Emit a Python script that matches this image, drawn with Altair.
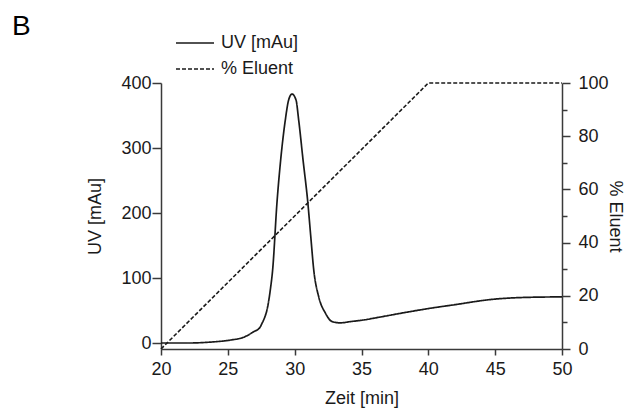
import altair as alt
import pandas as pd

# ---- data ----
uv_time = [20, 22, 23.75, 25.2, 26.2, 26.9, 27.4, 27.55, 27.75, 27.93, 28.18, 28.35, 28.68,
           28.95, 29.3, 29.55, 29.8, 30.1, 30.3, 30.63, 30.98, 31.2, 31.43, 31.8, 32.3,
           32.8, 33.4, 34.2, 35, 36.4, 38, 40, 42, 44.7, 47, 50]
uv_value = [0, 0, 1.5, 4.6, 9, 17, 24, 30, 39, 51, 82, 112, 217,
            281, 343, 374, 383, 374, 343, 281, 217, 165, 112, 71, 46,
            33, 31, 33, 35, 40, 46, 53, 59, 67, 70, 71]
eluent_time = [20, 40, 50]
eluent_value = [0, 100, 100]

series_names = ["UV [mAu]", "% Eluent"]
x_ticks = [20, 25, 30, 35, 40, 45, 50]
uv_ticks = [0, 100, 200, 300, 400]
eluent_ticks = [0, 10, 20, 30, 40, 50, 60, 70, 80, 90, 100]
panel_label = "B"

FONT = "Liberation Sans"
INK = "#1a1a1a"
AX = "#3a3a3a"

uv_df = pd.DataFrame({"t": uv_time, "v": uv_value, "s": series_names[0]})
el_df = pd.DataFrame({"t": eluent_time, "v": eluent_value, "s": series_names[1]})

x_enc = alt.X("t:Q", scale=alt.Scale(domain=[20, 50], nice=False),
              axis=alt.Axis(values=x_ticks, title="Zeit [min]", tickSize=6, labelFlush=False,
                            labelPadding=5, titlePadding=11))

dash = alt.StrokeDash("s:N", scale=alt.Scale(domain=series_names, range=[[1, 0], [4, 2]]),
                      legend=alt.Legend(title=None, orient="none", legendX=14, legendY=-50,
                                        symbolType="stroke", symbolSize=1444,
                                        symbolStrokeWidth=1.5, symbolStrokeColor=INK,
                                        clipHeight=20, rowPadding=6, padding=0,
                                        labelFont=FONT, labelFontSize=18, labelColor=INK,
                                        labelOffset=6))

uv_line = alt.Chart(uv_df).mark_line(interpolate="monotone", color=INK, strokeWidth=1.7).encode(
    x=x_enc,
    y=alt.Y("v:Q", scale=alt.Scale(domain=[-9.2, 400], nice=False, zero=False),
            axis=alt.Axis(values=uv_ticks, title="UV [mAu]", orient="left", tickSize=9,
                          labelPadding=1, titlePadding=16)),
    strokeDash=dash,
)

el_line = alt.Chart(el_df).mark_line(color=INK, strokeWidth=1.6).encode(
    x=x_enc,
    y=alt.Y("v:Q", scale=alt.Scale(domain=[0, 100], nice=False),
            axis=alt.Axis(values=eluent_ticks, title="% Eluent", orient="right",
                          tickSize={"condition": {"test": "datum.value % 20 === 0", "value": 8}, "value": 5},
                          labelExpr="datum.value % 20 === 0 ? datum.label : ''",
                          labelPadding=8, titlePadding=-3)),
    strokeDash=dash,
)

label = alt.Chart(pd.DataFrame({"txt": [panel_label]})).mark_text(
    font=FONT, fontSize=28, align="left", baseline="alphabetic", color="#000"
).encode(text="txt:N", x=alt.value(-149), y=alt.value(-48))

chart = alt.layer(uv_line, el_line, label).resolve_scale(
    y="independent", strokeDash="shared"
).properties(
    width=401, height=266,
    autosize=alt.AutoSizeParams(type="none"),
    padding={"left": 153, "top": 75, "right": 66, "bottom": 60},
).configure_view(stroke=None).configure_axis(
    grid=False, labelFont=FONT, labelFontSize=18, labelColor=INK,
    titleFont=FONT, titleFontSize=18, titleFontWeight="normal", titleColor=INK,
    domainColor=AX, domainWidth=1.5, tickColor=AX, tickWidth=1.5,
)

chart.save("out.html", embed_options={"renderer": "svg", "actions": False})
